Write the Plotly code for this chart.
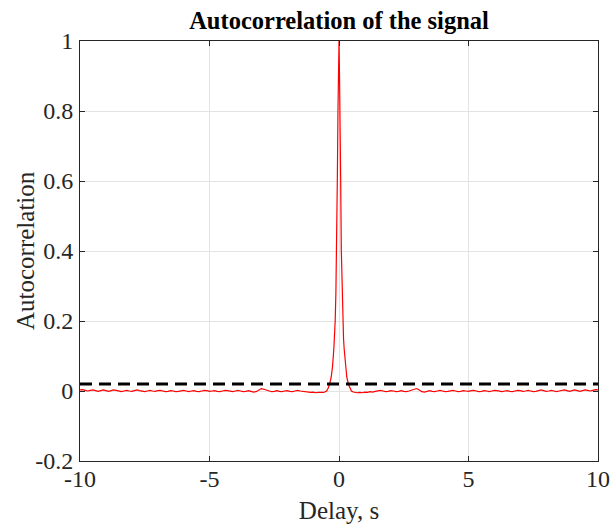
import plotly.graph_objects as go

# Peak of the autocorrelation (positive lags, s)
peak_lag = [0.0, 0.02, 0.04, 0.065, 0.09, 0.12, 0.147, 0.175, 0.2, 0.25, 0.3, 0.36, 0.42, 0.48, 0.55]
peak_val = [1.0, 0.9, 0.8, 0.6, 0.4, 0.28, 0.2, 0.15, 0.12, 0.07, 0.04, 0.02, 0.008, 0.0, -0.003]

# Noise floor at positive lags 0.6 .. 10.0 s (step 0.1 s)
noise_lag = [round(0.6 + 0.1 * i, 2) for i in range(95)]
noise_val = [
    -0.004, -0.005, -0.004, -0.005, -0.003, -0.004, -0.002, -0.003, -0.001, 0.000,
    0.002, 0.000, -0.002, -0.001, 0.001, 0.000, -0.002, -0.001, 0.001, -0.001,
    -0.002, 0.000, 0.002, 0.005, 0.007, 0.003, -0.002, -0.003, -0.001, 0.001,
    -0.001, -0.002, 0.000, 0.002, 0.000, -0.002, -0.001, 0.001, 0.002, 0.000,
    -0.002, -0.001, 0.001, 0.000, -0.001, 0.001, 0.002, 0.000, -0.002, -0.001,
    0.001, 0.000, -0.002, 0.000, 0.002, 0.001, -0.001, -0.002, 0.000, 0.001,
    -0.001, -0.002, 0.000, 0.002, 0.001, -0.001, 0.000, 0.002, 0.000, -0.002,
    -0.001, 0.001, 0.003, 0.001, -0.001, 0.000, 0.002, 0.000, -0.002, 0.000,
    0.002, 0.003, 0.001, -0.001, 0.001, 0.003, 0.001, -0.001, 0.001, 0.003,
    0.002, 0.000, 0.002, 0.004, 0.003,
]

# Confidence threshold (dashed line)
threshold_lag = [-10, 10]
threshold_val = [0.02, 0.02]

# Autocorrelation is symmetric in lag: build full series
pos_lag = peak_lag + noise_lag
pos_val = peak_val + noise_val
lags = [-t for t in reversed(pos_lag[1:])] + pos_lag
acf = list(reversed(pos_val[1:])) + pos_val

x_ticks = [-10, -5, 0, 5, 10]
y_ticks = [-0.2, 0, 0.2, 0.4, 0.6, 0.8, 1]
y_labels = ["-0.2", "0", "0.2", "0.4", "0.6", "0.8", "1"]

FONT = "Liberation Serif, Times New Roman, serif"

fig = go.Figure()
fig.add_trace(go.Scatter(x=lags, y=acf, mode="lines",
                         line=dict(color="#ff0000", width=1.2), showlegend=False))
fig.add_trace(go.Scatter(x=threshold_lag, y=threshold_val, mode="lines",
                         line=dict(color="black", width=3, dash="12px,7px"), showlegend=False))

axis_common = dict(
    showline=True, linecolor="#262626", linewidth=1, mirror="ticks",
    ticks="inside", ticklen=5, tickcolor="#262626",
    showgrid=True, gridcolor="#e3e3e3", gridwidth=1, zeroline=False,
    tickfont=dict(family=FONT, size=24, color="#262626"),
    automargin=False,
)

fig.update_xaxes(range=[-10, 10], tickvals=x_ticks, ticktext=[str(v) for v in x_ticks],
                 title=dict(text="Delay, s", font=dict(family=FONT, size=25, color="#262626"), standoff=10),
                 ticklabelstandoff=-4,
                 **axis_common)
fig.update_yaxes(range=[-0.2, 1], tickvals=y_ticks, ticktext=y_labels,
                 ticklabelstandoff=1,
                 **axis_common)

fig.update_layout(
    width=610, height=527,
    margin=dict(l=80, r=12, t=41, b=66),
    paper_bgcolor="white", plot_bgcolor="white",
    title=dict(text="<b>Autocorrelation of the signal</b>", x=0.5, xanchor="center",
               xref="paper", y=1 - 20 / 527, yanchor="middle",
               font=dict(family=FONT, size=24.5, color="black")),
    annotations=[dict(text="Autocorrelation", textangle=-90, showarrow=False,
                      xref="paper", yref="paper", x=(25 - 80) / 518, y=0.5,
                      xanchor="center", yanchor="middle",
                      font=dict(family=FONT, size=25, color="#262626"))],
)

fig.write_html("out.html")
